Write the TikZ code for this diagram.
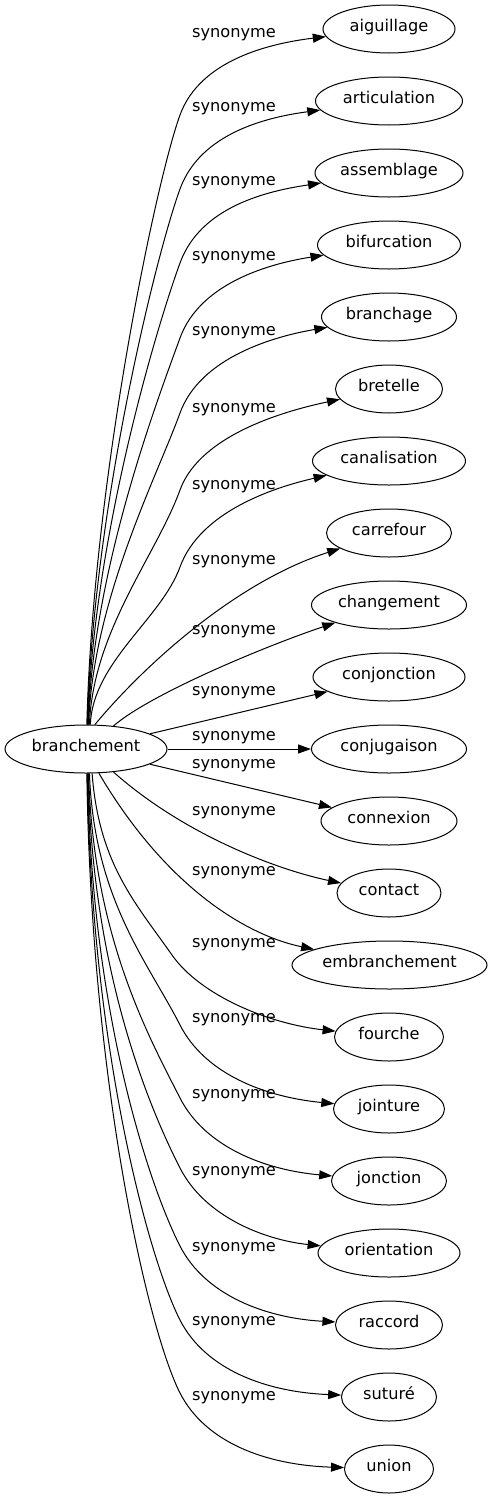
\documentclass[tikz,border=0pt]{standalone}
\usepackage{fontspec}
\setmainfont{DejaVu Sans}
\usetikzlibrary{shapes.geometric,arrows.meta}
\tikzset{
  nd/.style={draw, ellipse, line width=1pt, inner sep=0pt, minimum height=48pt,
    minimum width=#1, text height=0.76em, text depth=0.24em,
    font=\fontsize{16.2}{19}\selectfont},
  lab/.style={inner sep=0pt, font=\fontsize{16.2}{19}\selectfont},
  ed/.style={draw, line width=1pt, -{Triangle[length=13pt,width=9pt]}},
}
\begin{document}
\begin{tikzpicture}[x=1pt,y=-1pt]
\useasboundingbox (0,0) rectangle (492,1499);
\node[nd=162pt] (c) at (86,749) {branchement};
\node[nd=132pt] (t0) at (389,29) {aiguillage};
\node[nd=147pt] (t1) at (389,101) {articulation};
\node[nd=148pt] (t2) at (389,173) {assemblage};
\node[nd=143pt] (t3) at (389,245) {bifurcation};
\node[nd=135pt] (t4) at (389,317) {branchage};
\node[nd=107pt] (t5) at (389,389) {bretelle};
\node[nd=153pt] (t6) at (389,461) {canalisation};
\node[nd=125pt] (t7) at (389,533) {carrefour};
\node[nd=155pt] (t8) at (389,605) {changement};
\node[nd=152pt] (t9) at (389,677) {conjonction};
\node[nd=155pt] (t10) at (389,749) {conjugaison};
\node[nd=136pt] (t11) at (389,821) {connexion};
\node[nd=104pt] (t12) at (389,893) {contact};
\node[nd=195pt] (t13) at (389.5,965) {embranchement};
\node[nd=109pt] (t14) at (389,1037) {fourche};
\node[nd=111pt] (t15) at (389,1109) {jointure};
\node[nd=115pt] (t16) at (389,1181) {jonction};
\node[nd=142pt] (t17) at (389,1253) {orientation};
\node[nd=107pt] (t18) at (389,1325) {raccord};
\node[nd=95pt] (t19) at (389,1397) {suturé};
\node[nd=89pt] (t20) at (389,1469) {union};
% labels
\node[lab] (l0) at (234,35) {synonyme};
\node[lab] (l1) at (234,109) {synonyme};
\node[lab] (l2) at (234,183) {synonyme};
\node[lab] (l3) at (234,258) {synonyme};
\node[lab] (l4) at (234,333) {synonyme};
\node[lab] (l5) at (234,410) {synonyme};
\node[lab] (l6) at (234,487) {synonyme};
\node[lab] (l7) at (234,562) {synonyme};
\node[lab] (l8) at (234,632) {synonyme};
\node[lab] (l9) at (234,693) {synonyme};
\node[lab] (l10) at (234,738) {synonyme};
\node[lab] (l11) at (234,766) {synonyme};
\node[lab] (l12) at (234,813) {synonyme};
\node[lab] (l13) at (234,873) {synonyme};
\node[lab] (l14) at (234,945) {synonyme};
\node[lab] (l15) at (234,1020) {synonyme};
\node[lab] (l16) at (234,1096) {synonyme};
\node[lab] (l17) at (234,1173) {synonyme};
\node[lab] (l18) at (234,1249) {synonyme};
\node[lab] (l19) at (234,1323) {synonyme};
\node[lab] (l20) at (234,1398) {synonyme};
% upper edges
\draw[ed] (c.88) .. controls (93,481) and (156,180.8) .. (180,115) .. controls (200.5,58.6) and (273,43) .. (t0);
\draw[ed] (c.87) .. controls (93,510.6) and (156,254.8) .. (180,189) .. controls (200.5,132.6) and (268,117) .. (t1);
\draw[ed] (c.86) .. controls (93,540.2) and (156,328.8) .. (180,263) .. controls (200.5,206.6) and (267,191) .. (t2);
\draw[ed] (c.85) .. controls (93,570.2) and (156,403.8) .. (180,338) .. controls (200.5,281.6) and (273,263) .. (t3);
\draw[ed] (c.84) .. controls (93,600.2) and (156,478.8) .. (180,413) .. controls (200.5,356.6) and (276,336) .. (t4);
\draw[ed] (c.82) .. controls (93,631) and (156,555.8) .. (180,490) .. controls (200.5,433.6) and (289,410) .. (t5);
\draw[ed] (c.80) .. controls (93,661.8) and (161.1,619) .. (180,567) .. controls (200.5,510.6) and (276,487) .. (t6);
\draw[ed] (c.70) .. controls (146,663) and (238,581) .. (t7);
\draw[ed] (c.40) .. controls (151.5,693) and (271,644) .. (t8);
\draw[ed] (c) -- (t9);
\draw[ed] (c) -- (t10);
\draw[ed] (c) -- (t11);
% lower edges
\draw[ed] (c.-40) .. controls (188,838) and (283,871) .. (t12);
\draw[ed] (c.-62) .. controls (165,885.6) and (245,935) .. (t13);
\draw[ed] (c.-76) .. controls (99,864) and (135.4,902.8) .. (172,955) .. controls (200.7,996) and (270,1024) .. (t14);
\draw[ed] (c.-82) .. controls (94,899) and (148.2,962.6) .. (180,1025) .. controls (205,1074) and (265,1097) .. (t15);
\draw[ed] (c.-84) .. controls (93,935.5) and (148.2,1035.6) .. (180,1098) .. controls (205,1147) and (265,1170) .. (t16);
\draw[ed] (c.-85) .. controls (92,970.5) and (148.2,1105.6) .. (180,1168) .. controls (205,1217) and (265,1240) .. (t17);
\draw[ed] (c.-86) .. controls (91,1009.5) and (148.2,1183.6) .. (180,1246) .. controls (205,1295) and (265,1318) .. (t18);
\draw[ed] (c.-87) .. controls (91,1046.5) and (148.2,1257.6) .. (180,1320) .. controls (205,1369) and (265,1392) .. (t19);
\draw[ed] (c.-88) .. controls (91,1083) and (148.2,1330.6) .. (180,1393) .. controls (205,1442) and (265,1465) .. (t20);
\end{tikzpicture}
\end{document}
